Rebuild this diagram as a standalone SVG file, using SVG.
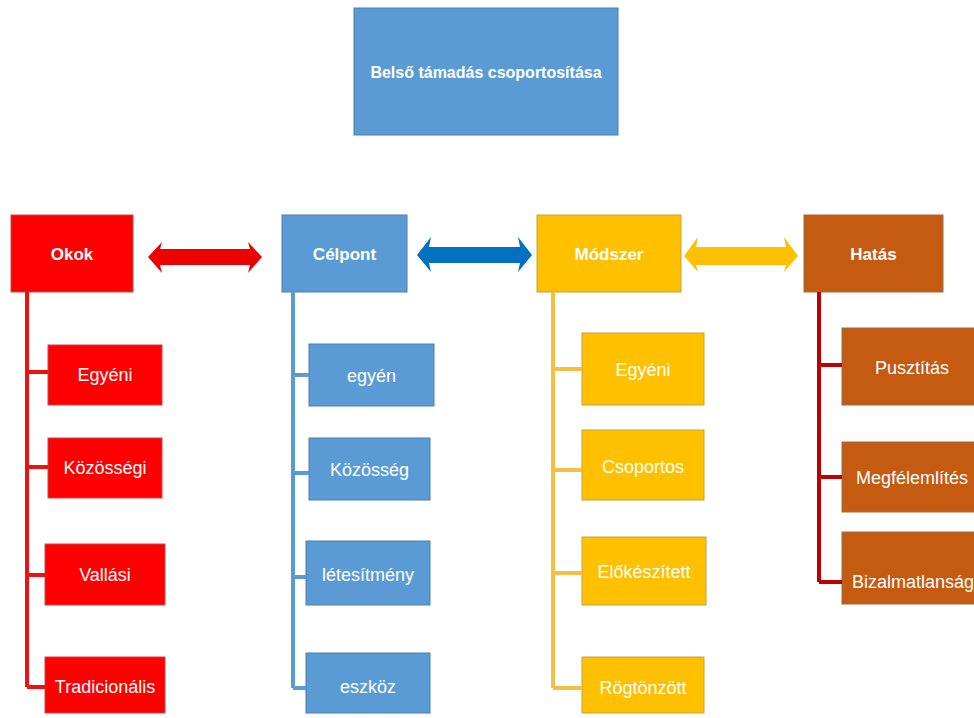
<svg xmlns="http://www.w3.org/2000/svg" width="974" height="718" viewBox="0 0 974 718">
<style>
.box{stroke-width:1;}
.red{fill:#FF0000;stroke:#C84848;}
.blue{fill:#5B9BD5;stroke:#4A7FB0;}
.yel{fill:#FFC000;stroke:#C8A040;}
.brn{fill:#C55A11;stroke:#9E6A48;}
.t{font-family:"Liberation Sans",Arial,sans-serif;font-size:18px;fill:#FFFFFF;text-anchor:middle;dominant-baseline:central;}
.h{font-weight:bold;font-size:17px;}
.ln{fill:none;stroke-width:4;}
</style>
<rect width="974" height="718" fill="#FFFFFF"/>
<g id="title"><rect class="box blue" x="354" y="8" width="264" height="127"/><text class="t h" x="486" y="72" style="font-size:16px">Belső támadás csoportosítása</text></g>

<g id="okok"><rect class="box red" x="11" y="215" width="122" height="77"/><text class="t h" x="72" y="254">Okok</text></g>
<g id="celpont"><rect class="box blue" x="282" y="215" width="125" height="77"/><text class="t h" x="344.5" y="254">Célpont</text></g>
<g id="modszer"><rect class="box yel" x="537" y="215" width="144" height="77"/><text class="t h" x="609" y="254">Módszer</text></g>
<g id="hatas"><rect class="box brn" x="804" y="215" width="139" height="77"/><text class="t h" x="873.5" y="254">Hatás</text></g>

<g id="okok-egyeni"><rect class="box red" x="48" y="345" width="114" height="60"/><text class="t" x="105" y="375">Egyéni</text></g>
<g id="okok-kozossegi"><rect class="box red" x="48" y="438" width="114" height="60"/><text class="t" x="105" y="468">Közösségi</text></g>
<g id="okok-vallasi"><rect class="box red" x="45" y="544" width="120" height="61"/><text class="t" x="105" y="575">Vallási</text></g>
<g id="okok-tradicionalis"><rect class="box red" x="45" y="657" width="120" height="56"/><text class="t" x="105" y="687">Tradicionális</text></g>

<g id="celpont-egyen"><rect class="box blue" x="309" y="344" width="125" height="62"/><text class="t" x="371.5" y="376">egyén</text></g>
<g id="celpont-kozosseg"><rect class="box blue" x="309" y="438" width="121" height="62"/><text class="t" x="369.5" y="470">Közösség</text></g>
<g id="celpont-letesitmeny"><rect class="box blue" x="306" y="541" width="124" height="64"/><text class="t" x="368" y="575">létesítmény</text></g>
<g id="celpont-eszkoz"><rect class="box blue" x="306" y="653" width="124" height="60"/><text class="t" x="368" y="687">eszköz</text></g>

<g id="modszer-egyeni"><rect class="box yel" x="582" y="333" width="122" height="72"/><text class="t" x="643" y="370">Egyéni</text></g>
<g id="modszer-csoportos"><rect class="box yel" x="582" y="430" width="122" height="70"/><text class="t" x="643" y="467">Csoportos</text></g>
<g id="modszer-elokeszitett"><rect class="box yel" x="582" y="537" width="124" height="68"/><text class="t" x="644" y="572">Előkészített</text></g>
<g id="modszer-rogtonzott"><rect class="box yel" x="582" y="657" width="122" height="56"/><text class="t" x="643" y="688">Rögtönzött</text></g>

<g id="hatas-pusztitas"><rect class="box brn" x="842" y="328" width="140" height="77"/><text class="t" x="912" y="368">Pusztítás</text></g>
<g id="hatas-megfelemlites"><rect class="box brn" x="842" y="442" width="140" height="70"/><text class="t" x="912" y="478">Megfélemlítés</text></g>
<g id="hatas-bizalmatlansag"><rect class="box brn" x="842" y="532" width="140" height="72"/><text class="t" x="913" y="582">Bizalmatlanság</text></g>

<g id="connectors">
<path class="ln" stroke="#EE1111" d="M27 292V687M27 372H48M27 467H48M27 575H45M27 687H45"/>
<path class="ln" stroke="#5B9BD5" d="M293 292V688M293 375H309M293 473H309M293 577H306M293 688H306"/>
<path class="ln" stroke="#F5C040" d="M553 292V688M553 369H582M553 470H582M553 573H582M553 688H582"/>
<path class="ln" stroke="#C00000" d="M819 292V582M819 365H842M819 477H842M819 582H842"/>
<polygon fill="#EE0000" points="148,257 162,242 160,249 250,249 248,242 262,257 248,273 250,265 160,265 162,273"/>
<polygon fill="#0070C0" points="417,255 431,237 429,247 520,247 518,237 532,255 518,272 520,263 429,263 431,272"/>
<polygon fill="#FFC000" points="684,256 698,237 696,247 786,247 784,237 798,256 784,272 786,265 696,265 698,272"/>
</g>
</svg>
